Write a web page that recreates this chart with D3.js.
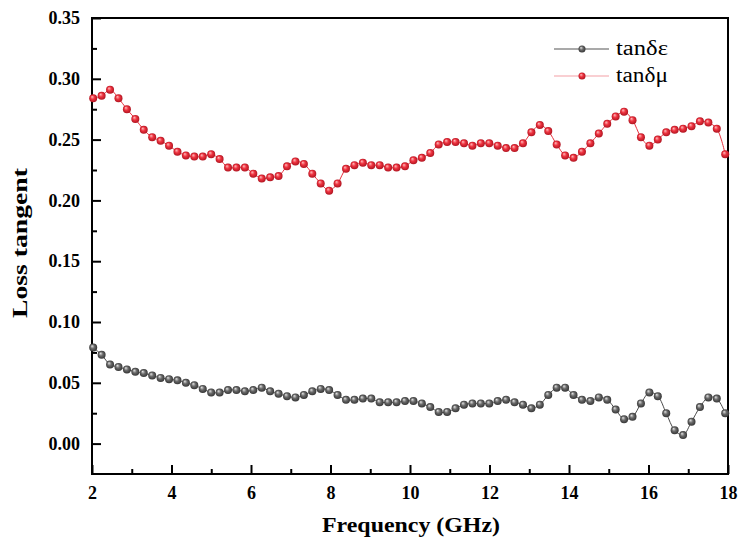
<!DOCTYPE html>
<html>
<head>
<meta charset="utf-8">
<script src="https://cdn.jsdelivr.net/npm/d3@7"></script>
<style>
  html, body { margin: 0; padding: 0; background: #fff; }
  svg { display: block; }
</style>
</head>
<body>
<svg id="chart" width="742" height="540"></svg>
<script>
// Measured frequencies (GHz)
const frequency = [
  2.030, 2.242, 2.454, 2.666, 2.878, 3.090, 3.302, 3.514, 3.726, 3.938,
  4.150, 4.362, 4.574, 4.786, 4.998, 5.210, 5.422, 5.634, 5.846, 6.058,
  6.270, 6.482, 6.694, 6.906, 7.118, 7.330, 7.542, 7.754, 7.966, 8.178,
  8.390, 8.602, 8.814, 9.026, 9.238, 9.450, 9.662, 9.874, 10.086, 10.298,
  10.510, 10.722, 10.934, 11.146, 11.358, 11.570, 11.782, 11.994, 12.206, 12.418,
  12.630, 12.842, 13.054, 13.266, 13.478, 13.690, 13.902, 14.114, 14.326, 14.538,
  14.750, 14.962, 15.174, 15.386, 15.598, 15.810, 16.022, 16.234, 16.446, 16.658,
  16.870, 17.082, 17.294, 17.506, 17.718, 17.930
];

// Dielectric loss tangent tanδε
const tanDeltaEps = [
  0.079, 0.073, 0.065, 0.063, 0.061, 0.059, 0.058, 0.056, 0.054, 0.053,
  0.052, 0.050, 0.048, 0.045, 0.042, 0.042, 0.044, 0.044, 0.043, 0.044,
  0.046, 0.043, 0.041, 0.039, 0.038, 0.040, 0.043, 0.045, 0.044, 0.040,
  0.036, 0.036, 0.037, 0.037, 0.034, 0.034, 0.034, 0.035, 0.035, 0.033,
  0.030, 0.026, 0.026, 0.029, 0.032, 0.033, 0.033, 0.033, 0.035, 0.036,
  0.034, 0.032, 0.029, 0.032, 0.040, 0.046, 0.046, 0.040, 0.036, 0.035,
  0.038, 0.036, 0.028, 0.020, 0.022, 0.033, 0.042, 0.039, 0.025, 0.011,
  0.007, 0.018, 0.030, 0.038, 0.037, 0.025
];

// Magnetic loss tangent tanδμ
const tanDeltaMu = [
  0.284, 0.286, 0.291, 0.284, 0.275, 0.267, 0.258, 0.252, 0.249, 0.245,
  0.240, 0.237, 0.236, 0.236, 0.238, 0.234, 0.227, 0.227, 0.227, 0.222,
  0.218, 0.219, 0.220, 0.228, 0.232, 0.230, 0.222, 0.214, 0.208, 0.214,
  0.226, 0.229, 0.231, 0.229, 0.229, 0.227, 0.227, 0.228, 0.233, 0.235,
  0.239, 0.246, 0.248, 0.248, 0.247, 0.245, 0.247, 0.247, 0.245, 0.243,
  0.243, 0.247, 0.256, 0.262, 0.257, 0.246, 0.237, 0.235, 0.240, 0.247,
  0.255, 0.263, 0.269, 0.273, 0.266, 0.252, 0.245, 0.250, 0.256, 0.258,
  0.259, 0.261, 0.265, 0.264, 0.259, 0.238
];

const xTicks = [2, 4, 6, 8, 10, 12, 14, 16, 18];
const yTicks = [0.00, 0.05, 0.10, 0.15, 0.20, 0.25, 0.30, 0.35];
const seriesNames = ["tanδε", "tanδμ"];

const W = 742, H = 540;
const margin = { top: 18, right: 14, bottom: 66, left: 92 };
const innerW = W - margin.left - margin.right;
const innerH = H - margin.top - margin.bottom;
const serif = "'Liberation Serif', 'DejaVu Serif', serif";

const svg = d3.select("#chart");
const defs = svg.append("defs");

function ballGradient(id, light, mid, dark) {
  const g = defs.append("radialGradient")
    .attr("id", id).attr("cx", "50%").attr("cy", "50%").attr("r", "55%")
    .attr("fx", "35%").attr("fy", "30%");
  g.append("stop").attr("offset", "0%").attr("stop-color", light);
  g.append("stop").attr("offset", "45%").attr("stop-color", mid);
  g.append("stop").attr("offset", "100%").attr("stop-color", dark);
}
ballGradient("ballGrey", "#e6e6e6", "#6a6a6a", "#2e2e2e");
ballGradient("ballRed", "#ffc0c0", "#ee3340", "#a8101c");

const x = d3.scaleLinear().domain([2, 18]).range([0, innerW]);
const y = d3.scaleLinear().domain([-0.025, 0.35]).range([innerH, 0]);

const g = svg.append("g").attr("transform", `translate(${margin.left},${margin.top})`);

// Frame
g.append("rect").attr("x", 0).attr("y", 0).attr("width", innerW).attr("height", innerH)
  .attr("fill", "none").attr("stroke", "#000").attr("stroke-width", 2);

// Minor ticks (inward)
const xMinor = d3.range(3, 18, 2);
const yMinor = d3.range(0.025, 0.35, 0.05);
g.append("g").attr("transform", `translate(0,${innerH})`)
  .call(d3.axisTop(x).tickValues(xMinor).tickSize(5).tickFormat(""))
  .call(s => s.select(".domain").remove())
  .call(s => s.selectAll("line").attr("stroke-width", 2));
g.append("g")
  .call(d3.axisRight(y).tickValues(yMinor).tickSize(5).tickFormat(""))
  .call(s => s.select(".domain").remove())
  .call(s => s.selectAll("line").attr("stroke-width", 2));

// Major ticks with labels
const xAxis = g.append("g").attr("transform", `translate(0,${innerH})`)
  .call(d3.axisTop(x).tickValues(xTicks).tickSize(9).tickFormat(d3.format("d")));
xAxis.select(".domain").remove();
xAxis.selectAll("line").attr("stroke-width", 2);
xAxis.selectAll("text")
  .attr("y", 12).attr("dy", "0.71em")
  .attr("font-family", serif).attr("font-weight", "bold").attr("font-size", 18).attr("fill", "#000");

const yAxis = g.append("g")
  .call(d3.axisRight(y).tickValues(yTicks).tickSize(9).tickFormat(d3.format(".2f")));
yAxis.select(".domain").remove();
yAxis.selectAll("line").attr("stroke-width", 2);
yAxis.selectAll("text")
  .attr("x", -12).attr("text-anchor", "end")
  .attr("font-family", serif).attr("font-weight", "bold").attr("font-size", 18).attr("fill", "#000");

// Axis titles
svg.append("text")
  .attr("x", 411).attr("y", 532)
  .attr("text-anchor", "middle")
  .attr("font-family", serif).attr("font-weight", "bold").attr("font-size", 21)
  .attr("textLength", 178).attr("lengthAdjust", "spacingAndGlyphs")
  .text("Frequency (GHz)");
svg.append("text")
  .attr("transform", "translate(27,243) rotate(-90)")
  .attr("text-anchor", "middle")
  .attr("font-family", serif).attr("font-weight", "bold").attr("font-size", 21)
  .attr("textLength", 150).attr("lengthAdjust", "spacingAndGlyphs")
  .text("Loss tangent");

// Series
const series = [
  { name: seriesNames[0], values: tanDeltaEps, line: "#4a4a4a", ball: "url(#ballGrey)", legendLine: "#555" },
  { name: seriesNames[1], values: tanDeltaMu, line: "#e8323f", ball: "url(#ballRed)", legendLine: "#f4a0a6" }
];

const line = d3.line()
  .x((d, i) => x(frequency[i]))
  .y(d => y(d))
  .curve(d3.curveCatmullRom.alpha(0.5));

series.forEach(s => {
  g.append("path").datum(s.values)
    .attr("fill", "none").attr("stroke", s.line).attr("stroke-width", 1)
    .attr("d", line);
  g.append("g").selectAll("circle").data(s.values).join("circle")
    .attr("cx", (d, i) => x(frequency[i]))
    .attr("cy", d => y(d))
    .attr("r", 4)
    .attr("fill", s.ball);
});

// Legend
const legend = svg.append("g");
series.forEach((s, i) => {
  const ly = 49 + i * 27;
  legend.append("line")
    .attr("x1", 554).attr("x2", 609).attr("y1", ly).attr("y2", ly)
    .attr("stroke", s.legendLine).attr("stroke-width", 1.2);
  legend.append("circle").attr("cx", 582).attr("cy", ly).attr("r", 3.5).attr("fill", s.ball);
  legend.append("text")
    .attr("x", 616).attr("y", ly).attr("dy", "0.32em")
    .attr("font-family", serif).attr("font-size", 20).attr("fill", "#000")
    .attr("textLength", 52).attr("lengthAdjust", "spacingAndGlyphs")
    .text(s.name);
});
</script>
</body>
</html>
